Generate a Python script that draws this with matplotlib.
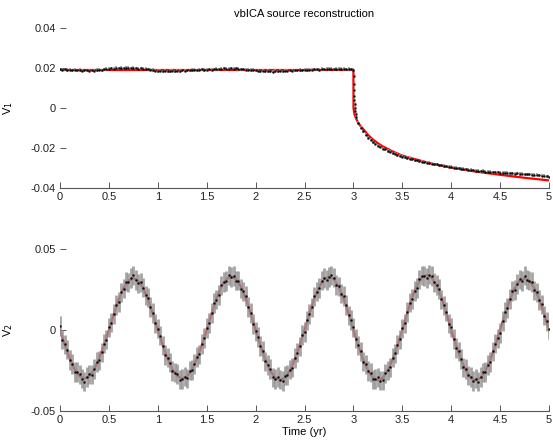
"""vbICA source reconstruction: two recovered sources with their fits."""

import matplotlib
matplotlib.use("Agg")
import matplotlib.pyplot as plt
import numpy as np

plt.rcParams["font.family"] = ["Liberation Sans", "DejaVu Sans"]
plt.rcParams["font.size"] = 8

TITLE = "vbICA source reconstruction"
XLABEL = "Time (yr)"
XTICKS = [0, 0.5, 1, 1.5, 2, 2.5, 3, 3.5, 4, 4.5, 5]
XTICKLABELS = ["0", "0.5", "1", "1.5", "2", "2.5", "3", "3.5", "4", "4.5", "5"]

# ---- source 1: daily-ish samples read every 0.025 yr ----
t_obs = np.linspace(0, 5, 201)
v1_obs = [
    0.0193, 0.0191, 0.0194, 0.0190, 0.0192, 0.0189, 0.0191, 0.0188, 0.0190, 0.0187, 0.0189, 0.0188,
    0.0187, 0.0189, 0.0186, 0.0190, 0.0192, 0.0189, 0.0193, 0.0195,
    0.0196, 0.0199, 0.0197, 0.0200, 0.0198, 0.0201, 0.0199, 0.0202, 0.0200, 0.0198, 0.0201, 0.0199,
    0.0197, 0.0198, 0.0196, 0.0197, 0.0194,
    0.0192, 0.0190, 0.0187, 0.0185, 0.0186, 0.0184, 0.0186, 0.0183, 0.0185, 0.0187, 0.0184, 0.0186,
    0.0185, 0.0188, 0.0186, 0.0189,
    0.0188, 0.0190, 0.0192, 0.0189, 0.0191, 0.0193, 0.0190, 0.0192, 0.0194, 0.0191, 0.0193, 0.0195,
    0.0194, 0.0196, 0.0198, 0.0195, 0.0197, 0.0199, 0.0196, 0.0198, 0.0195, 0.0194,
    0.0193, 0.0191, 0.0192, 0.0190, 0.0191, 0.0188,
    0.0186, 0.0184, 0.0186, 0.0183, 0.0185, 0.0184, 0.0182, 0.0185, 0.0183, 0.0186, 0.0184, 0.0187,
    0.0186, 0.0188, 0.0187, 0.0189, 0.0188, 0.0190, 0.0189, 0.0191, 0.0190, 0.0192, 0.0191, 0.0193,
    0.0194, 0.0192, 0.0195, 0.0194, 0.0196, 0.0195, 0.0197, 0.0194, 0.0196, 0.0195, 0.0197, 0.0195,
    0.0193, 0.0195, 0.0194, 0.0192,
    -0.0045, -0.0075, -0.0098, -0.0117, -0.0133, -0.0148, -0.0158, -0.0170, -0.0178, -0.0188,
    -0.0194, -0.0203, -0.0207, -0.0215, -0.0219, -0.0226, -0.0229, -0.0235, -0.0238, -0.0244,
    -0.0246, -0.0250, -0.0254, -0.0256, -0.0261, -0.0262, -0.0266, -0.0268, -0.0271, -0.0274,
    -0.0275, -0.0279, -0.0281, -0.0282, -0.0286, -0.0287, -0.0290, -0.0291, -0.0294, -0.0295,
    -0.0298, -0.0298, -0.0302, -0.0303, -0.0305, -0.0306, -0.0309, -0.0308, -0.0312, -0.0313,
    -0.0314, -0.0316, -0.0315, -0.0318, -0.0319, -0.0318, -0.0321, -0.0322, -0.0321, -0.0324,
    -0.0323, -0.0325, -0.0324, -0.0327, -0.0326, -0.0328, -0.0327, -0.0330, -0.0329, -0.0331,
    -0.0332, -0.0331, -0.0334, -0.0335, -0.0334, -0.0337, -0.0338, -0.0339, -0.0341, -0.0343,
]
# samples inside the fast transient right after the event at t = 3
t_jump = [3.002, 3.004, 3.006, 3.008, 3.010, 3.013, 3.016, 3.019, 3.022]
v1_jump = [0.016, 0.012, 0.009, 0.006, 0.004, 0.002, 0.0, -0.0015, -0.003]
err1 = 0.0008

t_fit1 = [0, 3.0, 3.001, 3.01, 3.025, 3.05, 3.075, 3.1, 3.15, 3.2, 3.25, 3.3, 3.4, 3.5,
          3.6, 3.8, 4.0, 4.25, 4.5, 4.75, 5.0]
v1_fit = [0.019, 0.019, 0.0, -0.003, -0.005, -0.0075, -0.0092, -0.0105, -0.0135, -0.0158,
          -0.0176, -0.0192, -0.0217, -0.0238, -0.0252, -0.0278, -0.0298, -0.0318, -0.0334,
          -0.0349, -0.0362]

# ---- source 2: seasonal signal ----
v2_obs = [
    0.0025, -0.0059, -0.0088, -0.0121, -0.0184, -0.0210, -0.0258, -0.0258, -0.0273, -0.0300,
    -0.0318, -0.0290, -0.0274, -0.0276, -0.0240, -0.0198, -0.0187, -0.0138, -0.0085, -0.0060,
    0.0016, 0.0045, 0.0100, 0.0155, 0.0174, 0.0233, 0.0256, 0.0298, 0.0294, 0.0320,
    0.0337, 0.0309, 0.0288, 0.0294, 0.0261, 0.0214, 0.0199, 0.0141, 0.0105, 0.0041,
    0.0009, -0.0035, -0.0097, -0.0154, -0.0170, -0.0201, -0.0252, -0.0264, -0.0271, -0.0307,
    -0.0302, -0.0288, -0.0298, -0.0251, -0.0248, -0.0211, -0.0166, -0.0150, -0.0086, -0.0050,
    0.0013, 0.0042, 0.0106, 0.0167, 0.0187, 0.0217, 0.0276, 0.0296, 0.0302, 0.0337,
    0.0326, 0.0332, 0.0305, 0.0304, 0.0255, 0.0238, 0.0209, 0.0142, 0.0104, 0.0037,
    -0.0009, -0.0042, -0.0100, -0.0130, -0.0194, -0.0217, -0.0242, -0.0292, -0.0302, -0.0289,
    -0.0306, -0.0316, -0.0282, -0.0279, -0.0244, -0.0233, -0.0172, -0.0140, -0.0101, -0.0032,
    -0.0013, 0.0060, 0.0100, 0.0139, 0.0208, 0.0236, 0.0258, 0.0305, 0.0320, 0.0308,
    0.0326, 0.0338, 0.0323, 0.0279, 0.0269, 0.0225, 0.0209, 0.0155, 0.0090, 0.0062,
    0.0016, -0.0053, -0.0095, -0.0131, -0.0196, -0.0212, -0.0254, -0.0263, -0.0305, -0.0302,
    -0.0293, -0.0313, -0.0311, -0.0267, -0.0249, -0.0231, -0.0171, -0.0145, -0.0090, -0.0057,
    0.0010, 0.0041, 0.0110, 0.0169, 0.0192, 0.0242, 0.0260, 0.0312, 0.0335, 0.0332,
    0.0322, 0.0342, 0.0334, 0.0294, 0.0278, 0.0254, 0.0189, 0.0152, 0.0113, 0.0040,
    0.0017, -0.0055, -0.0112, -0.0132, -0.0180, -0.0231, -0.0240, -0.0280, -0.0289, -0.0315,
    -0.0300, -0.0318, -0.0290, -0.0261, -0.0259, -0.0217, -0.0197, -0.0132, -0.0084, -0.0052,
    -0.0018, 0.0056, 0.0110, 0.0136, 0.0191, 0.0240, 0.0248, 0.0283, 0.0312, 0.0303,
    0.0336, 0.0311, 0.0305, 0.0295, 0.0245, 0.0233, 0.0185, 0.0158, 0.0089, 0.0054,
    0.0005,
]
err2 = 0.006

t_fit2 = np.linspace(0, 5, 101)
v2_fit = [
    0, -0.0093, -0.0176, -0.0243, -0.0285, -0.0300, -0.0285, -0.0243, -0.0176, -0.0093,
    0, 0.0099, 0.0188, 0.0259, 0.0304, 0.0320, 0.0304, 0.0259, 0.0188, 0.0099,
    0, -0.0093, -0.0176, -0.0243, -0.0285, -0.0300, -0.0285, -0.0243, -0.0176, -0.0093,
    0, 0.0102, 0.0194, 0.0267, 0.0314, 0.0330, 0.0314, 0.0267, 0.0194, 0.0102,
    0, -0.0096, -0.0182, -0.0251, -0.0295, -0.0310, -0.0295, -0.0251, -0.0182, -0.0096,
    0, 0.0102, 0.0194, 0.0267, 0.0314, 0.0330, 0.0314, 0.0267, 0.0194, 0.0102,
    0, -0.0096, -0.0182, -0.0251, -0.0295, -0.0310, -0.0295, -0.0251, -0.0182, -0.0096,
    0, 0.0105, 0.0200, 0.0275, 0.0323, 0.0340, 0.0323, 0.0275, 0.0200, 0.0105,
    0, -0.0096, -0.0182, -0.0251, -0.0295, -0.0310, -0.0295, -0.0251, -0.0182, -0.0096,
    0, 0.0099, 0.0188, 0.0259, 0.0304, 0.0320, 0.0304, 0.0259, 0.0188, 0.0099,
    0,
]

GRAY = "#959595"


def draw_source(ax, t, v, err, tf, vf, eline):
    ax.plot(tf, vf, color="red", lw=1.6, zorder=1)
    ax.errorbar(t, v, yerr=err, fmt="none", ecolor=GRAY, elinewidth=eline,
                alpha=0.85, zorder=2)
    ax.plot(t, v, ls="none", marker=".", ms=1.8, color="black", alpha=0.75, zorder=3)


def style_axes(ax, yticks, yticklabels, ylim):
    ax.set_xlim(0, 5)
    ax.set_ylim(*ylim)
    ax.set_xticks(XTICKS)
    ax.set_xticklabels(XTICKLABELS)
    ax.set_yticks(yticks)
    ax.set_yticklabels(yticklabels)
    for side in ("top", "right", "left"):
        ax.spines[side].set_visible(False)
    ax.spines["bottom"].set_color("#555555")
    ax.spines["bottom"].set_linewidth(0.8)
    ax.tick_params(axis="both", direction="in", length=4, width=0.7,
                   colors="#555555", labelcolor="#222222", labelsize=8)
    ax.tick_params(axis="y", pad=3)
    ax.tick_params(axis="x", pad=3)


fig = plt.figure(figsize=(5.53, 4.41), dpi=100)
ax1 = fig.add_axes([0.1085, 0.5737, 0.8843, 0.3628])
ax2 = fig.add_axes([0.1085, 0.0680, 0.8843, 0.3674])

draw_source(ax1, t_obs, v1_obs, err1, t_fit1, v1_fit, 1.4)
ax1.errorbar(t_jump, v1_jump, yerr=err1, fmt="none", ecolor=GRAY, elinewidth=1.0, zorder=2)
ax1.plot(t_jump, v1_jump, ls="none", marker=".", ms=1.6, color="black", alpha=0.7, zorder=3)
style_axes(ax1, [-0.04, -0.02, 0, 0.02, 0.04], ["-0.04", "-0.02", "0", "0.02", "0.04"],
           (-0.04, 0.04))
ax1.set_ylabel(r"V$_1$")
ax1.yaxis.set_label_coords(-0.092, 0.5)
ax1.set_title(TITLE, fontsize=8, pad=8)

draw_source(ax2, t_obs, v2_obs, err2, t_fit2, v2_fit, 2.0)
style_axes(ax2, [-0.05, 0, 0.05], ["-0.05", "0", "0.05"], (-0.05, 0.05))
ax2.set_ylabel(r"V$_2$")
ax2.yaxis.set_label_coords(-0.092, 0.5)
ax2.set_xlabel(XLABEL, labelpad=1)

fig.savefig("out.png", dpi=100)
